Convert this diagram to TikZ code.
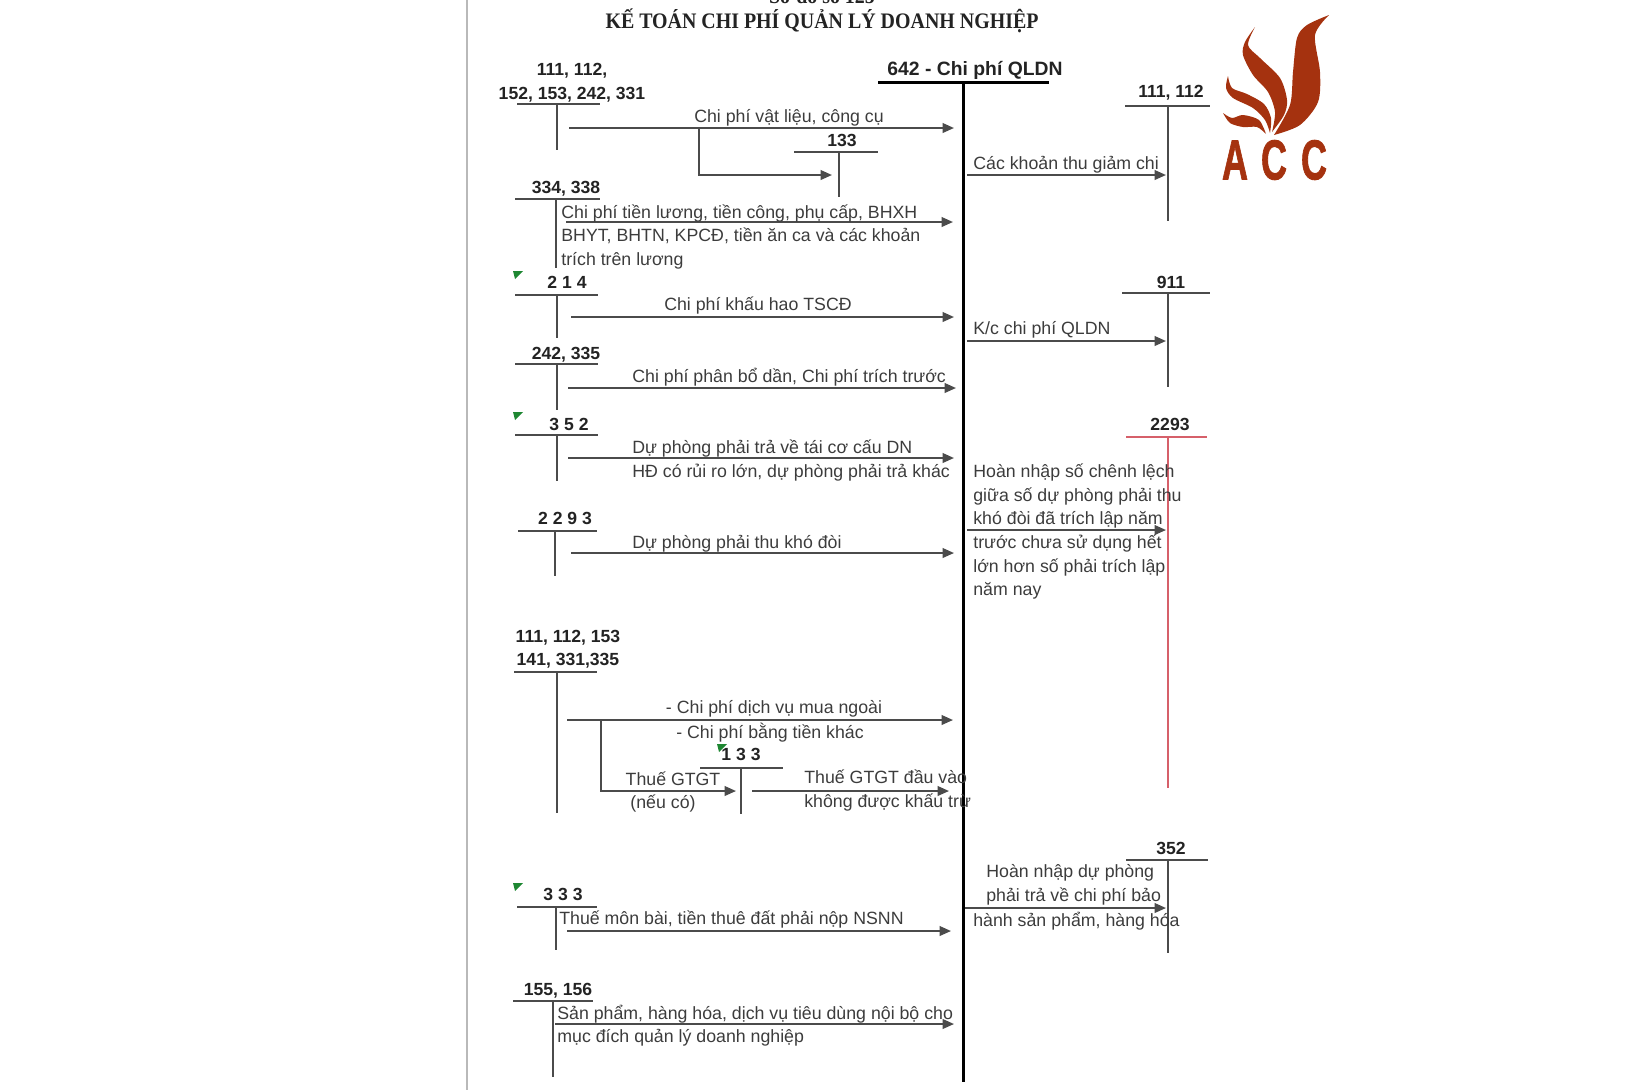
\documentclass[tikz,border=0pt]{standalone}
\usepackage{fontspec}
\setmainfont{Liberation Sans}
\newfontfamily\serifbold{Liberation Serif}[BoldFont={Liberation Serif Bold}]
\newfontfamily\logofont{Liberation Sans Bold}[FakeBold=1.6]
\usepackage{xcolor}
\usetikzlibrary{arrows.meta}
\definecolor{inktext}{RGB}{60, 60, 60}
\definecolor{inkrule}{RGB}{75, 75, 75}
\definecolor{inkbold}{RGB}{35, 35, 35}
\definecolor{redrule}{RGB}{214, 96, 106}
\definecolor{flagcolor}{RGB}{30, 135, 50}
\definecolor{brand}{RGB}{165, 50, 15}
\tikzset{
    lbl/.style={inner sep=0pt, align=left, yshift=-0.4pt, text=inktext, font=\fontsize{10.1}{13.4}\selectfont},
    acct/.style={inner sep=0pt, align=center, text=inkbold, font=\fontsize{10}{13.4}\selectfont\bfseries},
    title/.style={inner sep=0pt, xscale=0.9, text=inkbold, font=\serifbold\fontsize{12.6}{15}\selectfont\bfseries},
    rule/.style={line width=1.1pt, inkrule},
    redline/.style={line width=1.1pt, redrule},
    axis/.style={line width=1.7pt, black},
    arrow/.style={line width=1.1pt, inkrule, -{Triangle[length=6.5pt,width=5.5pt]}},
    flag/.style={fill=flagcolor},
    logo/.style={fill=brand},
    logotext/.style={inner sep=0pt, text=brand, xscale=0.64, font=\logofont\fontsize{32}{32}\selectfont}
}

\begin{document}
\begin{tikzpicture}[x=0.02cm, y=-0.02cm]
    \useasboundingbox (0,0) rectangle (1633,1090);
    % Page edge
    \fill[gray!55] (466,0) rectangle (468,1090);

    % Heading
    \node[title] (sub) at (822,-4) {Sơ đồ số 125};
    \node[title] (head) at (822,21) {KẾ TOÁN CHI PHÍ QUẢN LÝ DOANH NGHIỆP};

    % Main account 642
    \node[acct, font=\fontsize{11}{13.4}\selectfont\bfseries] (main) at (975,70) {642 - Chi phí QLDN};
    \coordinate (mainL) at (878,82); \coordinate (mainR) at (1049,82);
    \coordinate (mainT) at (963,82); \coordinate (mainB) at (963,1082);
    \draw[axis] (mainL) -- (mainR);
    \draw[axis] (mainT) -- (mainB);

    % Left accounts
    \node[acct] (a111) at (572,82.5) {111, 112,\\152, 153, 242, 331};
    \coordinate (a111L) at (517,104); \coordinate (a111R) at (600,104);
    \coordinate (a111T) at (557,104); \coordinate (a111B) at (557,150);
    \draw[rule] (a111L) -- (a111R);
    \draw[rule] (a111T) -- (a111B);

    \node[acct] (a133) at (842,140) {133};
    \coordinate (a133L) at (794,152); \coordinate (a133R) at (878,152);
    \coordinate (a133T) at (839,152); \coordinate (a133B) at (839,197);
    \draw[rule] (a133L) -- (a133R);
    \draw[rule] (a133T) -- (a133B);

    \node[acct] (a334) at (566,189) {334, 338};
    \coordinate (a334L) at (515,199); \coordinate (a334R) at (600,199);
    \coordinate (a334T) at (556,199); \coordinate (a334B) at (556,268);
    \draw[rule] (a334L) -- (a334R);
    \draw[rule] (a334T) -- (a334B);

    \node[acct] (a214) at (567,282) {2 1 4};
    \coordinate (a214L) at (515,295); \coordinate (a214R) at (598,295);
    \coordinate (a214T) at (557,295); \coordinate (a214B) at (557,338);
    \draw[rule] (a214L) -- (a214R);
    \draw[rule] (a214T) -- (a214B);

    \node[acct] (a242) at (566,354.5) {242, 335};
    \coordinate (a242L) at (515,364); \coordinate (a242R) at (598,364);
    \coordinate (a242T) at (557,364); \coordinate (a242B) at (557,410);
    \draw[rule] (a242L) -- (a242R);
    \draw[rule] (a242T) -- (a242B);

    \node[acct] (a352) at (569,424) {3 5 2};
    \coordinate (a352L) at (515,435); \coordinate (a352R) at (598,435);
    \coordinate (a352T) at (557,435); \coordinate (a352B) at (557,481);
    \draw[rule] (a352L) -- (a352R);
    \draw[rule] (a352T) -- (a352B);

    \node[acct] (a229) at (565,518) {2 2 9 3};
    \coordinate (a229L) at (518,531); \coordinate (a229R) at (597,531);
    \coordinate (a229T) at (555,531); \coordinate (a229B) at (555,576);
    \draw[rule] (a229L) -- (a229R);
    \draw[rule] (a229T) -- (a229B);

    \node[acct] (a141) at (568,649) {111, 112, 153\\141, 331,335};
    \coordinate (a141L) at (514,672); \coordinate (a141R) at (597,672);
    \coordinate (a141T) at (557,672); \coordinate (a141B) at (557,813);
    \draw[rule] (a141L) -- (a141R);
    \draw[rule] (a141T) -- (a141B);

    \node[acct] (b133) at (741,754) {1 3 3};
    \coordinate (b133L) at (700,768); \coordinate (b133R) at (783,768);
    \coordinate (b133T) at (741,768); \coordinate (b133B) at (741,814);
    \draw[rule] (b133L) -- (b133R);
    \draw[rule] (b133T) -- (b133B);

    \node[acct] (a333) at (563,894) {3 3 3};
    \coordinate (a333L) at (517,907); \coordinate (a333R) at (597,907);
    \coordinate (a333T) at (556,907); \coordinate (a333B) at (556,950);
    \draw[rule] (a333L) -- (a333R);
    \draw[rule] (a333T) -- (a333B);

    \node[acct] (a155) at (558,990.5) {155, 156};
    \coordinate (a155L) at (513,1001); \coordinate (a155R) at (593,1001);
    \coordinate (a155T) at (553,1001); \coordinate (a155B) at (553,1077);
    \draw[rule] (a155L) -- (a155R);
    \draw[rule] (a155T) -- (a155B);

    % Right accounts
    \node[acct] (r111) at (1171,93) {111, 112};
    \coordinate (r111L) at (1125,106); \coordinate (r111R) at (1210,106);
    \coordinate (r111T) at (1168,106); \coordinate (r111B) at (1168,221);
    \draw[rule] (r111L) -- (r111R);
    \draw[rule] (r111T) -- (r111B);

    \node[acct] (r911) at (1171,282) {911};
    \coordinate (r911L) at (1122,293); \coordinate (r911R) at (1210,293);
    \coordinate (r911T) at (1168,293); \coordinate (r911B) at (1168,387);
    \draw[rule] (r911L) -- (r911R);
    \draw[rule] (r911T) -- (r911B);

    \node[acct] (r229) at (1170,424) {2293};
    \coordinate (r229L) at (1126,437); \coordinate (r229R) at (1207,437);
    \coordinate (r229T) at (1168,437); \coordinate (r229B) at (1168,788);
    \draw[redline] (r229L) -- (r229R);
    \draw[redline] (r229T) -- (r229B);

    \node[acct] (r352) at (1171,848) {352};
    \coordinate (r352L) at (1126,860); \coordinate (r352R) at (1208,860);
    \coordinate (r352T) at (1168,860); \coordinate (r352B) at (1168,953);
    \draw[rule] (r352L) -- (r352R);
    \draw[rule] (r352T) -- (r352B);

    % Flows into 642
    \coordinate (f1s) at (569,128); \coordinate (f1e) at (954,128);
    \draw[arrow] (f1s) -- (f1e);
    \node[lbl] (t1) at (789,117) {Chi phí vật liệu, công cụ};
    \coordinate (f1b) at (699,128); \coordinate (f1c) at (832,175);
    \draw[arrow] (f1b) |- (f1c);

    \coordinate (f2s) at (566,222); \coordinate (f2e) at (953,222);
    \draw[arrow] (f2s) -- (f2e);
    \node[lbl, anchor=west] (t2) at (561,236) {Chi phí tiền lương, tiền công, phụ cấp, BHXH\\BHYT, BHTN, KPCĐ, tiền ăn ca và các khoản\\trích trên lương};

    \coordinate (f3s) at (571,317); \coordinate (f3e) at (954,317);
    \draw[arrow] (f3s) -- (f3e);
    \node[lbl] (t3) at (758,305) {Chi phí khấu hao TSCĐ};

    \coordinate (f4s) at (568,388); \coordinate (f4e) at (956,388);
    \draw[arrow] (f4s) -- (f4e);
    \node[lbl, anchor=west] (t4) at (632,376) {Chi phí phân bổ dần, Chi phí trích trước};

    \coordinate (f5s) at (568,458); \coordinate (f5e) at (954,458);
    \draw[arrow] (f5s) -- (f5e);
    \node[lbl, anchor=west] (t5) at (632,460) {Dự phòng phải trả về tái cơ cấu DN\\HĐ có rủi ro lớn, dự phòng phải trả khác};

    \coordinate (f6s) at (571,553); \coordinate (f6e) at (954,553);
    \draw[arrow] (f6s) -- (f6e);
    \node[lbl, anchor=west] (t6) at (632,543) {Dự phòng phải thu khó đòi};

    \coordinate (f7s) at (567,720); \coordinate (f7e) at (953,720);
    \draw[arrow] (f7s) -- (f7e);
    \node[lbl] (t7) at (774,708) {- Chi phí dịch vụ mua ngoài};
    \node[lbl] (t8) at (770,732) {- Chi phí bằng tiền khác};
    \coordinate (f7b) at (601,720); \coordinate (f7c) at (736,791);
    \draw[arrow] (f7b) |- (f7c);
    \node[lbl] (t9) at (673,778) {Thuế GTGT};
    \node[lbl] (t10) at (663,803) {(nếu có)};

    \coordinate (f8s) at (752,791); \coordinate (f8e) at (949,791);
    \draw[arrow] (f8s) -- (f8e);
    \node[lbl, anchor=west] (t11) at (804,790) {Thuế GTGT đầu vào\\không được khấu trừ};

    \coordinate (f9s) at (567,931); \coordinate (f9e) at (951,931);
    \draw[arrow] (f9s) -- (f9e);
    \node[lbl, anchor=west] (t12) at (559,919) {Thuế môn bài, tiền thuê đất phải nộp NSNN};

    \coordinate (f10s) at (555,1024); \coordinate (f10e) at (954,1024);
    \draw[arrow] (f10s) -- (f10e);
    \node[lbl, anchor=west] (t13) at (557,1025) {Sản phẩm, hàng hóa, dịch vụ tiêu dùng nội bộ cho\\mục đích quản lý doanh nghiệp};

    % Flows out of 642
    \coordinate (g1s) at (967,175); \coordinate (g1e) at (1166,175);
    \draw[arrow] (g1s) -- (g1e);
    \node[lbl, anchor=west] (u1) at (973,164) {Các khoản thu giảm chi};

    \coordinate (g2s) at (967,341); \coordinate (g2e) at (1166,341);
    \draw[arrow] (g2s) -- (g2e);
    \node[lbl, anchor=west] (u2) at (973,329) {K/c chi phí QLDN};

    \coordinate (g3s) at (967,530); \coordinate (g3e) at (1166,530);
    \draw[arrow] (g3s) -- (g3e);
    \node[lbl, anchor=west] (u3) at (973,531) {Hoàn nhập số chênh lệch\\giữa số dự phòng phải thu\\khó đòi đã trích lập năm\\trước chưa sử dụng hết\\lớn hơn số phải trích lập\\năm nay};

    \coordinate (g4s) at (965,908); \coordinate (g4e) at (1166,908);
    \draw[arrow] (g4s) -- (g4e);
    \node[lbl, anchor=west] (u4) at (986,884) {Hoàn nhập dự phòng\\phải trả về chi phí bảo};
    \node[lbl, anchor=west] (u5) at (973,920) {hành sản phẩm, hàng hóa};

    % Cell marks
    \fill[flag] (513,271) -- (523,271) -- (515,279) -- cycle;
    \fill[flag] (513,412) -- (523,412) -- (515,420) -- cycle;
    \fill[flag] (513,883) -- (523,883) -- (515,891) -- cycle;
    \fill[flag] (717,744) -- (727,744) -- (719,752) -- cycle;

    % Logo
    \fill[logo] plot[smooth] coordinates {(1329,15) (1307,25) (1297,38) (1293,72) (1290,105) (1274,135)}
        -- plot[smooth] coordinates {(1274,135) (1300,125) (1318,102) (1320,72) (1315,35) (1329,15)} -- cycle;
    \fill[logo] plot[smooth] coordinates {(1255,27) (1245,42) (1243,55) (1253,75) (1268,92) (1275,112) (1272,132)}
        -- plot[smooth] coordinates {(1272,132) (1284,115) (1287,100) (1280,78) (1260,58) (1248,45) (1255,27)} -- cycle;
    \fill[logo] plot[smooth] coordinates {(1228,76) (1226,88) (1233,98) (1253,108) (1265,120) (1270,133)}
        -- plot[smooth] coordinates {(1270,133) (1271,118) (1264,104) (1247,94) (1232,88) (1228,76)} -- cycle;
    \fill[logo] plot[smooth] coordinates {(1223,113) (1230,123) (1243,127) (1257,127) (1266,134)}
        -- plot[smooth] coordinates {(1266,134) (1259,120) (1243,115) (1232,118) (1223,113)} -- cycle;
    \node[logotext] (logoA) at (1235,160) {A};
    \node[logotext] (logoB) at (1274,160) {C};
    \node[logotext] (logoC) at (1314,160) {C};
\end{tikzpicture}
\end{document}
